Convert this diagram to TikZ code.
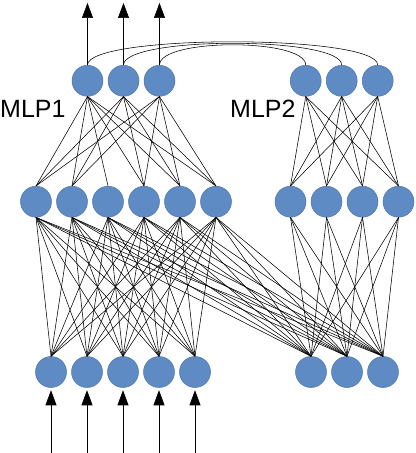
\documentclass[tikz,border=0pt]{standalone}
\usepackage{fontspec}
\setmainfont{Liberation Sans}
\usetikzlibrary{arrows.meta}
\definecolor{nfill}{RGB}{95,139,197}
\definecolor{nedge}{RGB}{78,116,170}
\begin{document}
\begin{tikzpicture}[x=1bp,y=-1bp,
  neuron/.style={circle,fill=nfill,draw=nedge,line width=0.5bp,minimum size=31bp,inner sep=0pt},
  conn/.style={line width=0.55bp,black},
  io/.style={line width=0.6bp,-{Triangle[length=15bp,width=11bp]}},
  lbl/.style={font=\fontsize{25bp}{30bp}\selectfont,inner sep=0pt,anchor=base west}]
\useasboundingbox (0,0) rectangle (415,453);
% MLP1 output layer
\foreach \x [count=\i] in {87.5,123.5,159.5} {
  \node[neuron] (t\i) at (\x,80.8) {};
  \coordinate (ta\i) at (\x,3);
}
% MLP2 output layer
\foreach \x [count=\i] in {305.7,341.7,377.7}
  \node[neuron] (u\i) at (\x,80.8) {};
% MLP1 hidden layer
\foreach \x [count=\i] in {36,72,108,144,180,216}
  \node[neuron] (h\i) at (\x,201.7) {};
% MLP2 hidden layer
\foreach \x [count=\i] in {290.5,326.5,362.5,398.5}
  \node[neuron] (g\i) at (\x,201.7) {};
% MLP1 input layer
\foreach \x [count=\i] in {51,87,123,159,195} {
  \node[neuron] (b\i) at (\x,372) {};
  \coordinate (ba\i) at (\x,453);
}
% MLP2 input layer
\foreach \x [count=\i] in {311,347,383}
  \node[neuron] (c\i) at (\x,372) {};
% labels
\node[lbl] (l1) at (0,117.5) {MLP1};
\node[lbl] (l2) at (230,117.5) {MLP2};
% connections
\foreach \i in {1,...,5} \foreach \j in {1,...,6} \draw[conn] (b\i.north) -- (h\j.south);
\foreach \i in {1,...,6} \foreach \j in {1,2,3} \draw[conn] (h\i.south) -- (c\j.north);
\foreach \i in {1,2,3} \foreach \j in {1,...,4} \draw[conn] (c\i.north) -- (g\j.south);
\foreach \i in {1,2,4,5,6} \foreach \j in {1,2,3} \draw[conn] (h\i.north) -- (t\j.south);
\draw[conn] (h3.north) -- (t1.south);
\foreach \i in {1,...,4} \foreach \j in {1,2,3} \draw[conn] (g\i.north) -- (u\j.south);
% curves between output layers
\draw[conn] (t1.north) .. controls +(0,-31) and +(0,-31) .. (u3.north);
\draw[conn] (t2.north) .. controls +(0,-29) and +(0,-29) .. (u2.north);
\draw[conn] (t3.north) .. controls +(0,-27) and +(0,-27) .. (u1.north);
% inputs and outputs
\foreach \i in {1,2,3} \draw[io] (t\i.north) -- (ta\i);
\foreach \i in {1,...,5} \draw[io,shorten >=2.5bp] (ba\i) -- (b\i.south);
\end{tikzpicture}
\end{document}
